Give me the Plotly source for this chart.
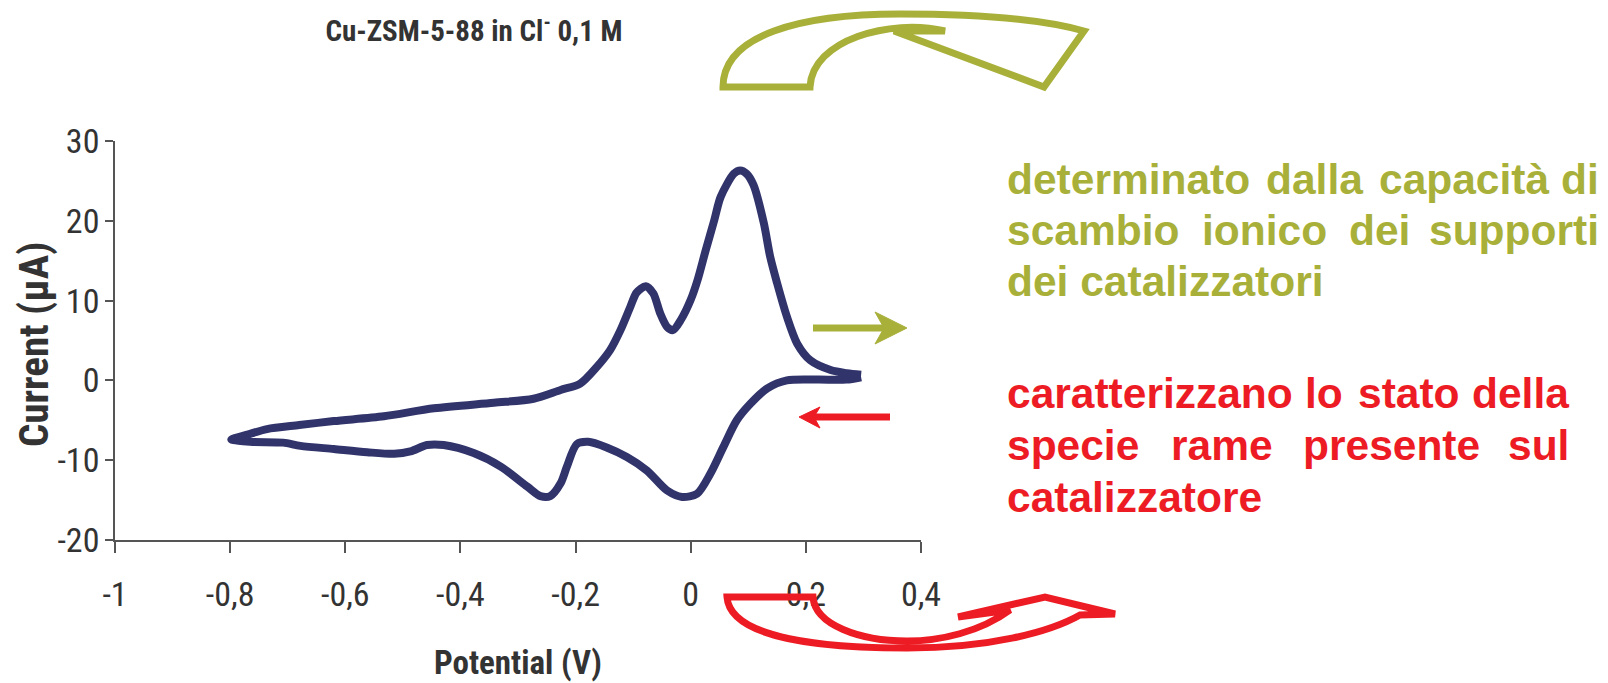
import plotly.graph_objects as go

# ---------------- data ----------------
# cyclic voltammogram: cathodic (lower) branch right->left, then anodic (upper) branch left->right
potential_v = [
    0.296, 0.270, 0.220, 0.167, 0.133, 0.104, 0.080, 0.057, 0.034, 0.011,
    -0.015, -0.041, -0.076, -0.111, -0.146, -0.178, -0.198, -0.215, -0.226, -0.244,
    -0.261, -0.284, -0.330, -0.377, -0.429, -0.458, -0.487, -0.515, -0.562, -0.620,
    -0.678, -0.708, -0.765, -0.798,
    -0.770, -0.736, -0.680, -0.620, -0.533, -0.446, -0.342, -0.273, -0.226, -0.192,
    -0.163, -0.140, -0.122, -0.105, -0.094, -0.078, -0.065, -0.053, -0.041, -0.031,
    -0.017, 0.000, 0.012, 0.026, 0.041, 0.052, 0.075, 0.086, 0.097, 0.109,
    0.127, 0.138, 0.150, 0.167, 0.185, 0.208, 0.243, 0.271, 0.296,
]
current_ua = [
    0.4, 0.1, 0.1, 0.0, -1.0, -2.9, -5.0, -8.3, -11.7, -14.2,
    -14.6, -13.8, -11.3, -9.6, -8.4, -7.7, -8.0, -10.8, -12.9, -14.5,
    -14.5, -13.3, -10.8, -9.1, -8.1, -8.1, -8.9, -9.2, -9.0, -8.6,
    -8.2, -7.8, -7.7, -7.4,
    -6.8, -6.1, -5.6, -5.1, -4.5, -3.5, -2.8, -2.3, -1.2, -0.4,
    1.7, 3.8, 6.3, 9.2, 11.0, 11.8, 10.9, 8.4, 6.7, 6.3,
    7.6, 10.1, 12.6, 16.3, 20.1, 23.0, 25.9, 26.3, 25.9, 24.5,
    19.7, 15.5, 12.2, 8.0, 4.6, 2.5, 1.3, 0.9, 0.7,
]

x_tick_values = [-1, -0.8, -0.6, -0.4, -0.2, 0, 0.2, 0.4]
x_tick_labels = ["-1", "-0,8", "-0,6", "-0,4", "-0,2", "0", "0,2", "0,4"]
y_tick_values = [-20, -10, 0, 10, 20, 30]
y_tick_labels = ["-20", "-10", "0", "10", "20", "30"]

chart_title = "Cu-ZSM-5-88 in Cl<sup>-</sup> 0,1 M"
x_title = "Potential (V)"
y_title = "Current (µA)"

green_lines = [
    ["determinato", "dalla", "capacità", "di"],
    ["scambio", "ionico", "dei", "supporti"],
    ["dei catalizzatori"],
]
red_lines = [
    ["caratterizzano", "lo", "stato", "della"],
    ["specie", "rame", "presente", "sul"],
    ["catalizzatore"],
]

# ---------------- layout helpers (pixel -> paper) ----------------
W, H = 1608, 683
L, R, T, B = 115, 687, 141, 143
PW, PH = W - L - R, H - T - B


def px(x):
    return (x - L) / PW


def py(y):
    return (H - B - y) / PH


def path(cmds):
    out = []
    for c in cmds:
        if isinstance(c, str):
            out.append(c)
        else:
            out.append(f"{px(c[0]):.5f},{py(c[1]):.5f}")
    return " ".join(out)


NAVY = "#31336b"
OLIVE = "#a8b03a"
RED = "#ed1c24"
GREY = "#333333"
NARROW = "Roboto Condensed, DejaVu Sans Condensed, Liberation Sans Narrow, Arial Narrow, sans-serif"
SANS = "Liberation Sans, Arial, sans-serif"

fig = go.Figure()
fig.add_trace(go.Scatter(
    x=potential_v, y=current_ua, mode="lines",
    line=dict(color=NAVY, width=8, shape="spline", smoothing=0.8),
    hoverinfo="skip",
))

fig.update_layout(
    width=W, height=H, autosize=False,
    margin=dict(l=L, r=R, t=T, b=B, pad=0, autoexpand=False),
    paper_bgcolor="white", plot_bgcolor="white", showlegend=False,
    title=dict(text=f"<b>{chart_title}</b>", x=474 / W, xanchor="center",
               y=1 - 31 / H, yanchor="middle",
               font=dict(family=NARROW, size=29, color=GREY)),
)
fig.update_xaxes(
    range=[-1, 0.4], tickvals=x_tick_values, ticktext=x_tick_labels,
    showline=True, linecolor="#555555", linewidth=1.5, mirror=False,
    ticks="outside", ticklen=11, tickwidth=1.5, tickcolor="#555555",
    showgrid=False, zeroline=False, ticklabelstandoff=12, automargin=False,
    tickfont=dict(family=NARROW, size=34, color=GREY),
    title=dict(text=f"<b>{x_title}</b>", standoff=38,
               font=dict(family=NARROW, size=33, color=GREY)),
)
fig.update_yaxes(
    range=[-20, 30], tickvals=y_tick_values, ticktext=y_tick_labels,
    showline=True, linecolor="#555555", linewidth=1.5, mirror=False,
    ticks="outside", ticklen=8, tickwidth=1.5, tickcolor="#555555",
    showgrid=False, zeroline=False, ticklabelstandoff=-1, automargin=False,
    tickfont=dict(family=NARROW, size=34, color=GREY),
)

# ---------------- decorative arrows ----------------
green_curved = path([
    "M", (723, 87), "C", (723, 35), (800, 14), (900, 14),
    "C", (985, 14), (1045, 20), (1084, 31),
    "L", (1044, 87), "L", (894, 31), "L", (945, 31),
    "C", (890, 18), (812, 40), (810, 87), "Z",
])
red_curved = path([
    "M", (727, 597), "L", (813, 597),
    "C", (815, 625), (860, 641), (907, 641),
    "C", (940, 641), (980, 632), (1010, 610),
    "L", (958, 617), "L", (1045, 597), "L", (1115, 614), "L", (1080, 615),
    "C", (1050, 632), (990, 648), (907, 648),
    "C", (830, 648), (730, 640), (727, 597), "Z",
])
shapes = [
    dict(type="path", xref="paper", yref="paper", path=green_curved,
         line=dict(color=OLIVE, width=7), fillcolor="rgba(0,0,0,0)", layer="above"),
    dict(type="path", xref="paper", yref="paper", path=red_curved,
         line=dict(color=RED, width=7), fillcolor="rgba(0,0,0,0)", layer="above"),
    # straight green arrow
    dict(type="line", xref="paper", yref="paper", x0=px(813), y0=py(328), x1=px(886), y1=py(328),
         line=dict(color=OLIVE, width=7)),
    dict(type="path", xref="paper", yref="paper",
         path=path(["M", (875, 312), "L", (907, 328), "L", (875, 344), "L", (884, 328), "Z"]),
         line=dict(color=OLIVE, width=1), fillcolor=OLIVE),
    # straight red arrow
    dict(type="line", xref="paper", yref="paper", x0=px(890), y0=py(417), x1=px(812), y1=py(417),
         line=dict(color=RED, width=7)),
    dict(type="path", xref="paper", yref="paper",
         path=path(["M", (799, 417), "L", (820, 407), "L", (814, 417), "L", (820, 428), "Z"]),
         line=dict(color=RED, width=1), fillcolor=RED),
]
fig.update_layout(shapes=shapes)

# ---------------- texts ----------------
annotations = [
    # y-axis title
    dict(text=f"<b>{y_title}</b>", xref="paper", yref="paper",
         x=px(34), y=py(344), xanchor="center", yanchor="middle", textangle=-90,
         showarrow=False, font=dict(family=NARROW, size=41, color=GREY)),
]


def add_block(lines, color, left, right, centers, starts):
    for words, cy, st in zip(lines, centers, starts):
        for i, w in enumerate(words):
            if len(words) > 1 and i == len(words) - 1:
                xpos, anchor = right, "right"
            else:
                xpos, anchor = st[i], "left"
            annotations.append(dict(
                text=f"<b>{w}</b>", xref="paper", yref="paper",
                x=px(xpos), y=py(cy), xanchor=anchor, yanchor="middle",
                showarrow=False, font=dict(family=SANS, size=42.5, color=color),
            ))


add_block(green_lines, OLIVE, 1005, 1601, [179, 230, 281],
          [[1005, 1264, 1377], [1005, 1200, 1347], [1005]])
add_block(red_lines, RED, 1005, 1571, [393, 445, 497],
          [[1005, 1303, 1356], [1005, 1169, 1301], [1005]])
fig.update_layout(annotations=annotations)

fig.write_html(
    "out.html",
    config={"displayModeBar": False},
    post_script="document.body.style.margin='0';document.body.style.overflow='hidden';",
)
